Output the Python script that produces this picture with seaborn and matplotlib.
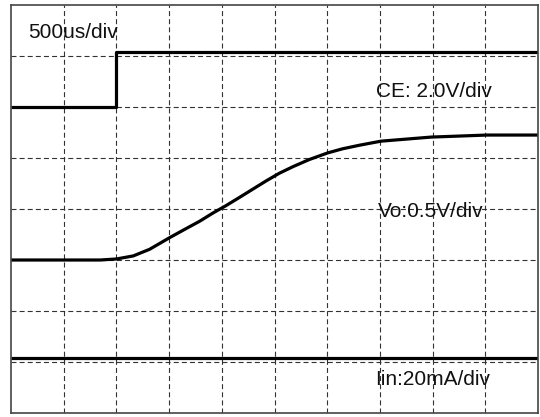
import matplotlib
matplotlib.use("Agg")
import matplotlib.pyplot as plt
import seaborn as sns
import pandas as pd

# ---- data (in screen divisions) ----
ce_t = [0.0, 2.0, 2.0, 10.0]
ce_v = [6.0, 6.0, 7.07, 7.07]

vo_t = [0.0, 1.69, 2.00, 2.32, 2.63, 3.03, 3.33, 3.58, 3.83, 4.07, 4.34, 4.59,
        4.84, 5.09, 5.35, 5.66, 6.01, 6.29, 6.61, 7.02, 7.97, 9.03, 10.0]
vo_v = [3.00, 3.00, 3.02, 3.08, 3.21, 3.45, 3.62, 3.76, 3.92, 4.06, 4.23, 4.39,
        4.55, 4.70, 4.83, 4.97, 5.10, 5.18, 5.25, 5.33, 5.41, 5.45, 5.45]

iin_t = [0.0, 10.0]
iin_v = [1.08, 1.08]

labels = ["500us/div", "CE: 2.0V/div", "Vo:0.5V/div", "Iin:20mA/div"]
label_x = [0.33, 6.93, 6.97, 6.91]
label_y = [7.35, 6.19, 3.85, 0.55]

sns.set_style("white")
plt.rcParams['font.family'] = ['Liberation Sans', 'DejaVu Sans']

fig = plt.figure(figsize=(5.40, 4.17), dpi=100)
ax = fig.add_axes([11/540, 4/417, 527/540, 408/417])

ax.set_xlim(0, 10)
ax.set_ylim(0, 8)
ax.set_xticks(range(1, 10))
ax.set_yticks(range(1, 8))
ax.tick_params(length=0, labelbottom=False, labelleft=False)
ax.grid(True, color="#333333", linestyle=(0, (4.5, 2.8)), linewidth=0.8)
ax.set_axisbelow(True)
for s in ax.spines.values():
    s.set_color("#444444")
    s.set_linewidth(1.2)

for t, v in [(ce_t, ce_v), (vo_t, vo_v), (iin_t, iin_v)]:
    df = pd.DataFrame({"t": t, "v": v})
    sns.lineplot(data=df, x="t", y="v", ax=ax, color="black", linewidth=2.3,
                 estimator=None, sort=False)
for ln in ax.get_lines():
    ln.set_solid_joinstyle("round")
    ln.set_solid_capstyle("butt")

ax.set_xlabel("")
ax.set_ylabel("")

for txt, x, y in zip(labels, label_x, label_y):
    ax.text(x, y, txt, fontsize=15, color="#111111", va="baseline", ha="left")

fig.savefig("out.png", dpi=100)
